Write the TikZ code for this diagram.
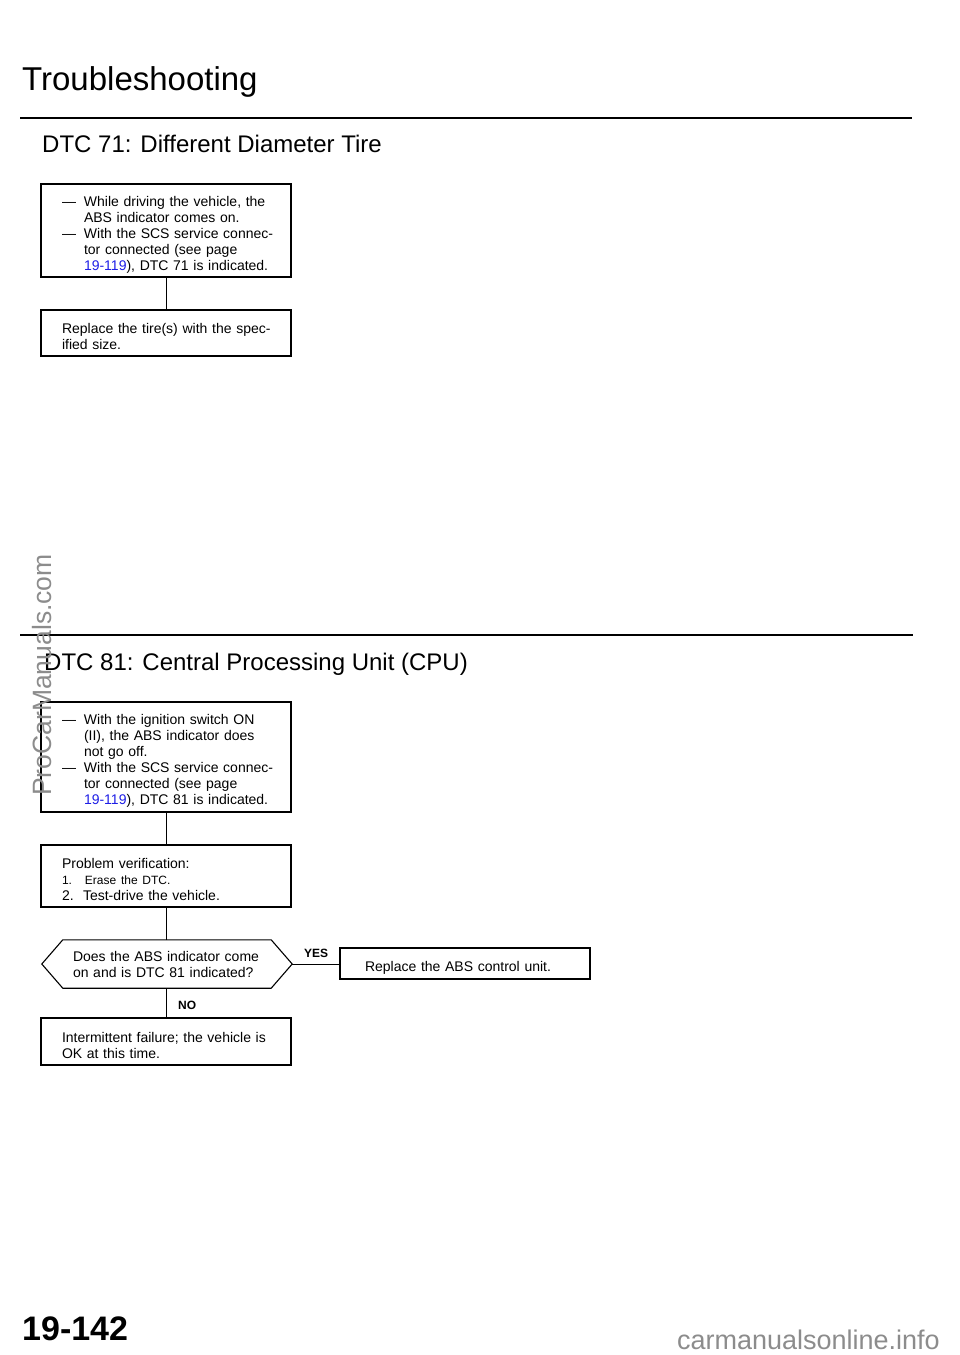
\documentclass[tikz,border=0pt]{standalone}
\usepackage{fontspec}
\setmainfont{Liberation Sans}
\usetikzlibrary{positioning}
\definecolor{linkblue}{RGB}{30,30,230}
\definecolor{markgray}{RGB}{140,140,140}
\newcommand{\dashitem}{\makebox[22pt][l]{---}}
\newcommand{\hang}{\hspace*{22pt}}
\newcommand{\lift}{\rule{0pt}{18pt}}

\tikzset{
  box/.style={draw=black,line width=1.1pt,rectangle,minimum width=250pt,
    inner xsep=21pt,text width=208pt,align=left,
    font=\fontsize{14}{16}\selectfont},
  link/.style={draw=black,line width=1pt},
  rule/.style={draw=black,line width=2pt},
  heading/.style={anchor=base west,inner sep=0pt,font=\fontsize{24}{24}\selectfont},
  answer/.style={anchor=base west,inner sep=0pt,font=\bfseries\fontsize{12}{12}\selectfont}
}

\begin{document}
\begin{tikzpicture}[x=1pt,y=-1pt]
    \useasboundingbox (0,0) rectangle (960,1355);

    % page head
    \node [anchor=base west,inner sep=0pt,font=\fontsize{33}{33}\selectfont] (title) at (22,90) {Troubleshooting};
    \draw [rule] (20,118) -- (912,118);

    % DTC 71
    \node [heading] (head71) at (42,152) {DTC 71: Different Diameter Tire};
    \node [box,minimum height=93pt] (cond71) at (166,230.5) {\lift\mbox{\dashitem While driving the vehicle, the}\\
      \mbox{\hang ABS indicator comes on.}\\
      \mbox{\dashitem With the SCS service connec-}\\
      \mbox{\hang tor connected (see page}\\
      \mbox{\hang \textcolor{linkblue}{19-119}), DTC 71 is indicated.}};
    \node [box,minimum height=46pt] (fix71) at (166,333) {\lift\mbox{Replace the tire(s) with the spec-}\\\mbox{ified size.}};
    \draw [link] (cond71) -- (fix71);

    % DTC 81
    \draw [rule] (20,635) -- (913,635);
    \node [heading] (head81) at (44,670) {DTC 81: Central Processing Unit (CPU)};
    \node [box,minimum height=110pt] (cond81) at (166,757) {\lift\mbox{\dashitem With the ignition switch ON}\\
      \mbox{\hang (II), the ABS indicator does}\\
      \mbox{\hang not go off.}\\
      \mbox{\dashitem With the SCS service connec-}\\
      \mbox{\hang tor connected (see page}\\
      \mbox{\hang \textcolor{linkblue}{19-119}), DTC 81 is indicated.}};
    \node [box,minimum height=62pt] (verify) at (166,876) {\lift Problem verification:\\
      {\fontsize{12}{16}\selectfont\makebox[23pt][l]{1.}Erase the DTC.}\\
      \makebox[21pt][l]{2.}Test-drive the vehicle.};
    \node [rectangle,minimum width=250pt,minimum height=48pt,inner xsep=31pt,text width=188pt,align=left,
      font=\fontsize{14}{16}\selectfont] (ask) at (167,964) {\mbox{Does the ABS indicator come}\\\mbox{on and is DTC 81 indicated?}};
    \draw [line width=1.1pt] (ask.west) -- ([xshift=21pt]ask.north west) -- ([xshift=-21pt]ask.north east)
      -- (ask.east) -- ([xshift=-21pt]ask.south east) -- ([xshift=21pt]ask.south west) -- cycle;
    \node [box,minimum height=31pt,inner xsep=24pt,text width=200pt] (swap) at (465,963.5) {\lift Replace the ABS control unit.};
    \node [box,minimum height=47pt] (okay) at (166,1041.5) {\lift\mbox{Intermittent failure; the vehicle is}\\OK at this time.};
    \draw [link] (cond81) -- (verify);
    \draw [link] (verify.south) -- (verify.south |- ask.north);
    \draw [link] (ask.east) -- (swap.west |- ask.east);
    \draw [link] (ask.south -| verify.south) -- (okay.north -| verify.south);
    \node [answer] (yes) at (304,957) {YES};
    \node [answer] (no) at (178,1009) {NO};

    % page foot and marks
    \node [anchor=base west,inner sep=0pt,font=\bfseries\fontsize{34}{34}\selectfont] (page) at (22,1340) {19-142};
    \node [anchor=base east,inner sep=0pt,text=markgray,font=\fontsize{27}{27}\selectfont] (site) at (940,1349) {carmanualsonline.info};
    \node [anchor=base west,inner sep=0pt,rotate=90,text=markgray,font=\fontsize{26.5}{26.5}\selectfont] (mark) at (51,796) {ProCarManuals.com};
\end{tikzpicture}
\end{document}
